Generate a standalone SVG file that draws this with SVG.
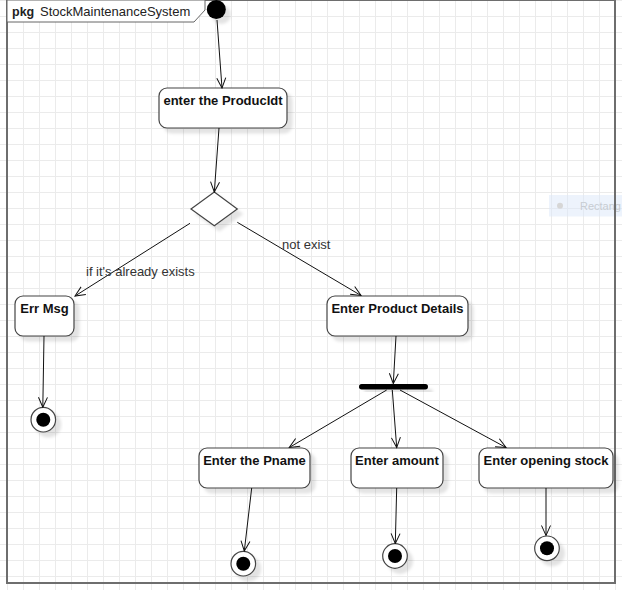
<svg xmlns="http://www.w3.org/2000/svg" width="622" height="590" viewBox="0 0 622 590">
<defs>
<pattern id="grid" patternUnits="userSpaceOnUse" x="7" y="0" width="16" height="16">
<path d="M0,0.5 H16 M0.5,0 V16" fill="none" stroke="#ebebeb" stroke-width="1"/>
</pattern>
<filter id="sh" x="-20%" y="-20%" width="150%" height="160%">
<feDropShadow dx="5" dy="5" stdDeviation="1.5" flood-color="#000" flood-opacity="0.11"/>
</filter>
<marker id="arr" viewBox="-11 -6 12 12" refX="0" refY="0" markerWidth="12" markerHeight="12" markerUnits="userSpaceOnUse" orient="auto">
<path d="M-10,-4.5 L0,0 L-10,4.5" fill="none" stroke="#111" stroke-width="1"/>
</marker>
</defs>
<style>
.act{fill:#fff;stroke:#444;stroke-width:1.2}
.lbl{font-family:"Liberation Sans",Arial,sans-serif;font-size:13px;font-weight:bold;fill:#111;text-anchor:middle}
.elbl{font-family:"Liberation Sans",Arial,sans-serif;font-size:13px;fill:#333}
.con line{stroke:#111;stroke-width:1;marker-end:url(#arr)}
.fin{fill:#fff;stroke:#444;stroke-width:1.2}
</style>
<rect x="0" y="0" width="622" height="590" fill="#fff"/>
<rect x="0" y="0" width="622" height="590" fill="url(#grid)"/>
<g id="ghost">
<rect x="549" y="195" width="80" height="21.5" fill="#dbe8fa" fill-opacity="0.5"/>
<circle cx="560" cy="205.7" r="3" fill="#d6d6d6"/>
<text x="580" y="210" font-family="'Liberation Sans',Arial,sans-serif" font-size="11" fill="#c7ccd2">Rectang</text>
</g>
<g id="frame">
<rect x="7" y="0" width="608" height="583" fill="none" stroke="#6e6e6e" stroke-width="2"/>
<path d="M7,0 H205 V10 L194,22 H7 Z" fill="#fff" stroke="#666" stroke-width="1"/>
<text x="12" y="16" font-family="'Liberation Sans',Arial,sans-serif" font-size="12.5" font-weight="bold" fill="#222">pkg</text>
<text x="40" y="16" font-family="'Liberation Sans',Arial,sans-serif" font-size="13" fill="#222">StockMaintenanceSystem</text>
</g>
<g id="initial">
<circle cx="216.3" cy="9.5" r="9.5" fill="#000" filter="url(#sh)"/>
</g>
<g id="enterProductId">
<rect class="act" x="159" y="88" width="128" height="40" rx="8" filter="url(#sh)"/>
<text class="lbl" x="223" y="105">enter the ProducIdt</text>
</g>
<g id="decision">
<polygon class="act" points="214.3,192 237.3,209 214.3,225.7 191,209" filter="url(#sh)"/>
</g>
<g id="errMsg">
<rect class="act" x="15" y="296" width="59" height="40" rx="8" filter="url(#sh)"/>
<text class="lbl" x="44.5" y="313">Err Msg</text>
</g>
<g id="enterProductDetails">
<rect class="act" x="327" y="296" width="141" height="40" rx="8" filter="url(#sh)"/>
<text class="lbl" x="397.5" y="313">Enter Product Details</text>
</g>
<g id="fork">
<rect x="359" y="384" width="69" height="5.5" rx="2.7" fill="#000" filter="url(#sh)"/>
</g>
<g id="enterPname">
<rect class="act" x="199" y="448" width="111" height="40" rx="8" filter="url(#sh)"/>
<text class="lbl" x="254.5" y="465">Enter the Pname</text>
</g>
<g id="enterAmount">
<rect class="act" x="351" y="448" width="92" height="40" rx="8" filter="url(#sh)"/>
<text class="lbl" x="397" y="465">Enter amount</text>
</g>
<g id="enterOpeningStock">
<rect class="act" x="479" y="448" width="134" height="40" rx="8" filter="url(#sh)"/>
<text class="lbl" x="546" y="465">Enter opening stock</text>
</g>
<g id="finalErr">
<circle class="fin" cx="43.3" cy="419.7" r="12.3" filter="url(#sh)"/>
<circle cx="43.3" cy="419.7" r="7" fill="#000"/>
</g>
<g id="finalPname">
<circle class="fin" cx="243.3" cy="563.7" r="12.3" filter="url(#sh)"/>
<circle cx="243.3" cy="563.7" r="7" fill="#000"/>
</g>
<g id="finalAmount">
<circle class="fin" cx="395" cy="556" r="12.3" filter="url(#sh)"/>
<circle cx="395" cy="556" r="7" fill="#000"/>
</g>
<g id="finalOpening">
<circle class="fin" cx="547" cy="548.3" r="12.3" filter="url(#sh)"/>
<circle cx="547" cy="548.3" r="7" fill="#000"/>
</g>
<g id="connectors" class="con">
<line x1="217" y1="20" x2="222" y2="88"/>
<line x1="219" y1="128" x2="214.3" y2="192"/>
<line x1="190" y1="223.3" x2="75" y2="296"/>
<line x1="237.3" y1="222.3" x2="361" y2="295.5"/>
<line x1="44" y1="336" x2="42.8" y2="407.3"/>
<line x1="396" y1="336" x2="393.3" y2="383.5"/>
<line x1="386.7" y1="390" x2="289.3" y2="447.5"/>
<line x1="392.3" y1="390" x2="396.7" y2="447.5"/>
<line x1="400" y1="390" x2="506" y2="447.5"/>
<line x1="251.7" y1="488" x2="244.3" y2="551"/>
<line x1="396.7" y1="488" x2="395.3" y2="543.5"/>
<line x1="546" y1="488" x2="546" y2="535.5"/>
<text class="elbl" x="86" y="276">if it's already exists</text>
<text class="elbl" x="282" y="249">not exist</text>
</g>
</svg>
